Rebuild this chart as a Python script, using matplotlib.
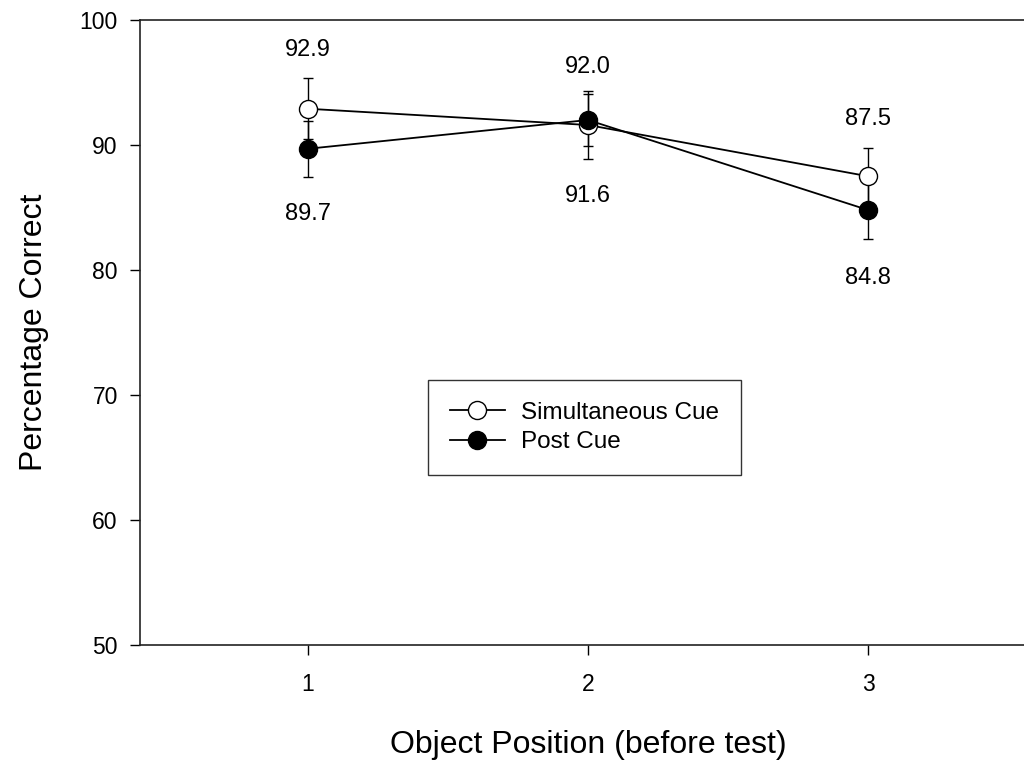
import numpy as np
import matplotlib
matplotlib.use('Agg')
import matplotlib.pyplot as plt

plt.rcParams['font.family'] = ['Liberation Sans', 'DejaVu Sans']

# data
positions = [1, 2, 3]
sim_mean = [92.9, 91.6, 87.5]
sim_err = [2.45, 2.7, 2.3]
post_mean = [89.7, 92.0, 84.8]
post_err = [2.25, 2.1, 2.3]

# vertical offsets (points) of the value labels from each marker
sim_label_dy = [42, -51, 41]
post_label_dy = [-47, 38, -49]

fig = plt.figure(figsize=(10.24, 7.62), dpi=100)
ax = fig.add_axes([140/1024, 117/762, 896/1024, 625/762])

# error bars first, then the lines with markers on top
ax.errorbar(positions, sim_mean, yerr=sim_err, fmt='none', ecolor='black',
            elinewidth=1.0, capsize=3.5, capthick=1.0, zorder=2)
ax.errorbar(positions, post_mean, yerr=post_err, fmt='none', ecolor='black',
            elinewidth=1.0, capsize=3.5, capthick=1.0, zorder=2)
ax.plot(positions, sim_mean, '-o', color='black', mfc='white', mec='black',
        ms=13, mew=1.0, lw=1.3, label='Simultaneous Cue', zorder=3)
ax.plot(positions, post_mean, '-o', color='black', mfc='black', mec='black',
        ms=13, mew=1.0, lw=1.3, label='Post Cue', zorder=4)

for x, y, dy in zip(positions, sim_mean, sim_label_dy):
    ax.annotate(f'{y:.1f}', (x, y), xytext=(0, dy), textcoords='offset points',
                ha='center', va='center', fontsize=17)
for x, y, dy in zip(positions, post_mean, post_label_dy):
    ax.annotate(f'{y:.1f}', (x, y), xytext=(0, dy), textcoords='offset points',
                ha='center', va='center', fontsize=17)

ax.set_xlim(0.4, 3.6)
ax.set_ylim(50, 100)
ax.set_xticks(positions)
ax.set_yticks([50, 60, 70, 80, 90, 100])
ax.tick_params(direction='out', length=7, width=1.0, labelsize=16.5)
ax.tick_params(axis='y', pad=9)
ax.tick_params(axis='x', pad=13)

for s in ax.spines.values():
    s.set_linewidth(1.2)
    s.set_color('#222222')

ax.set_xlabel('Object Position (before test)', fontsize=23, labelpad=25)
ax.set_ylabel('Percentage Correct', fontsize=23, labelpad=22)

leg = ax.legend(loc='lower left', bbox_to_anchor=((428-140)/896, (645-475)/625),
                borderaxespad=0, fontsize=17.5, frameon=True, fancybox=False,
                handlelength=2.26, handletextpad=0.66, borderpad=0.9,
                labelspacing=0.3)
leg.get_frame().set_edgecolor('black')
leg.get_frame().set_linewidth(1.0)

fig.savefig('out.png', dpi=100)
